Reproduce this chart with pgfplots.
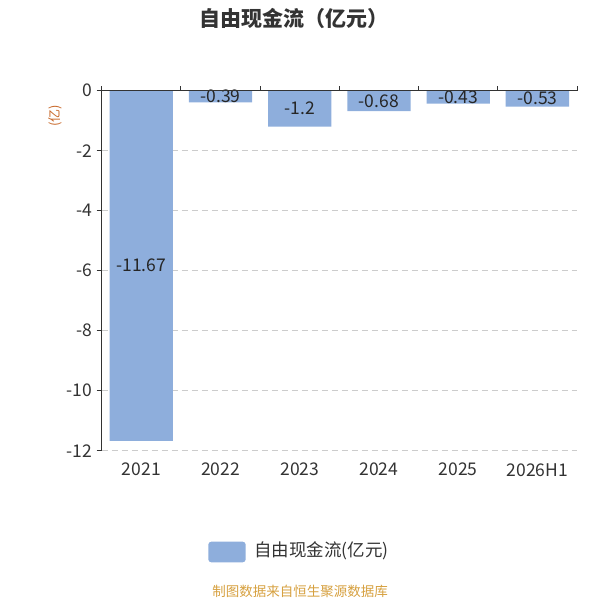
\documentclass[border=0pt]{standalone}
\usepackage{pgfplots}
\pgfplotsset{compat=1.18}
\usepackage{fontspec}
\setmainfont{Noto Sans CJK SC}
\definecolor{barc}{HTML}{8EAEDC}
\definecolor{txt}{HTML}{333333}
\definecolor{axc}{HTML}{333333}
\definecolor{foot}{HTML}{D6A03F}
\definecolor{ylab}{HTML}{C8692B}
\definecolor{gridc}{HTML}{CCCCCC}
\begin{document}
\begin{tikzpicture}[x=1pt,y=1pt]
\path[use as bounding box] (0,0) rectangle (600,600);
\begin{axis}[
  at={(101.7pt,149.3pt)}, anchor=south west,
  scale only axis, width=475.3pt, height=360pt,
  xmin=-0.5, xmax=5.5, ymin=-12, ymax=0,
  axis lines*=left,
  x axis line style={draw=none},
  y axis line style={-, draw=axc, line width=0.9pt},
  xtick={0,1,2,3,4,5},
  xticklabels={2021,2022,2023,2024,2025,2026H1},
  x tick style={draw=none},
  ytick={-12,-10,-8,-6,-4,-2,0},
  yticklabels={-12,-10,-8,-6,-4,-2,0},
  y tick style={draw=axc, line width=0.9pt},
  tick align=outside,
  major tick length=5pt,
  ticklabel style={font=\fontsize{17.5}{20}\selectfont, text=txt},
  xticklabel style={yshift=-4pt},
  yticklabel style={xshift=-1pt},
  ymajorgrids,
  grid style={gridc, line width=0.8pt, dash pattern=on 6pt off 4pt},
  ylabel={(亿)},
  ylabel style={font=\fontsize{13}{15}\selectfont, text=ylab, at={(axis description cs:-0.098,0.93)}, anchor=center},
  clip=false,
]
\addplot[ybar, bar width=63.3pt, fill=barc, draw=none] coordinates {(0,-11.67)(1,-0.39)(2,-1.2)(3,-0.68)(4,-0.43)(5,-0.53)};
\addplot[draw=none, mark=none, nodes near coords, point meta=explicit symbolic,
  nodes near coords align={center},
  every node near coord/.append style={font=\fontsize{17.5}{20}\selectfont, text=black!85, anchor=center}]
  coordinates {(0,-5.835)[-11.67] (1,-0.195)[-0.39] (2,-0.6)[-1.2] (3,-0.34)[-0.68] (4,-0.215)[-0.43] (5,-0.265)[-0.53]};
\end{axis}
% category axis at zero, ticks pointing up
\draw[axc, line width=0.9pt] (101.7,509.3) -- (577,509.3);
\foreach \k in {0,...,6} {
  \draw[axc, line width=0.9pt] ({101.7+\k*79.2167},509.3) -- ++(0,5);
}
% title
\node[font=\fontsize{21}{24}\selectfont\bfseries, text=txt] at (294,581.5) {自由现金流（亿元）};
% legend
\fill[barc, rounded corners=3pt] (208.3,37.7) rectangle (245.7,58.3);
\node[anchor=west, font=\fontsize{17.5}{20}\selectfont, text=txt, inner sep=0pt] at (254,49) {自由现金流(亿元)};
% footer
\node[font=\fontsize{13.5}{16}\selectfont, text=foot] at (300,8.3) {制图数据来自恒生聚源数据库};
\end{tikzpicture}
\end{document}
